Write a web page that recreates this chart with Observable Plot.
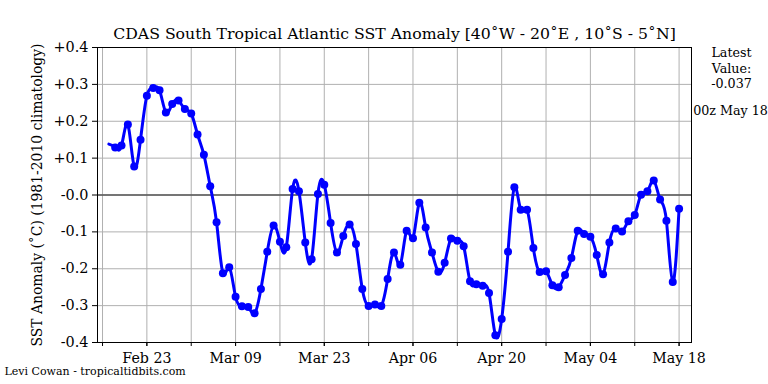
<!DOCTYPE html>
<html><head><meta charset="utf-8">
<script src="https://cdn.jsdelivr.net/npm/d3@7"></script>
<script src="https://cdn.jsdelivr.net/npm/@observablehq/plot@0.6"></script>
<style>html,body{margin:0;padding:0;background:#fff}</style>
</head><body><div id="chart"></div>
<script>
const dates = [
 "2025-02-17","2025-02-18","2025-02-19","2025-02-20","2025-02-21","2025-02-22","2025-02-23","2025-02-24","2025-02-25","2025-02-26","2025-02-27","2025-02-28",
 "2025-03-01","2025-03-02","2025-03-03","2025-03-04","2025-03-05","2025-03-06","2025-03-07","2025-03-08","2025-03-09","2025-03-10",
 "2025-03-11","2025-03-12","2025-03-13","2025-03-14","2025-03-15","2025-03-16","2025-03-17","2025-03-18","2025-03-19","2025-03-20",
 "2025-03-21","2025-03-22","2025-03-23","2025-03-24","2025-03-25","2025-03-26","2025-03-27","2025-03-28","2025-03-29","2025-03-30","2025-03-31",
 "2025-04-01","2025-04-02","2025-04-03","2025-04-04","2025-04-05","2025-04-06","2025-04-07","2025-04-08","2025-04-09","2025-04-10",
 "2025-04-11","2025-04-12","2025-04-13","2025-04-14","2025-04-15","2025-04-16","2025-04-17","2025-04-18","2025-04-19","2025-04-20",
 "2025-04-21","2025-04-22","2025-04-23","2025-04-24","2025-04-25","2025-04-26","2025-04-27","2025-04-28","2025-04-29","2025-04-30",
 "2025-05-01","2025-05-02","2025-05-03","2025-05-04","2025-05-05","2025-05-06","2025-05-07","2025-05-08","2025-05-09","2025-05-10",
 "2025-05-11","2025-05-12","2025-05-13","2025-05-14","2025-05-15","2025-05-16","2025-05-17","2025-05-18"
];
const anomalies = [
 0.138, 0.129, 0.134, 0.191, 0.077, 0.150, 0.269, 0.290, 0.284, 0.224, 0.247, 0.256,
 0.233, 0.221, 0.164, 0.109, 0.024, -0.074, -0.212, -0.196, -0.276, -0.302,
 -0.304, -0.321, -0.255, -0.154, -0.083, -0.127, -0.142, 0.016, 0.010, -0.129,
 -0.174, 0.003, 0.028, -0.076, -0.156, -0.111, -0.080, -0.133, -0.255, -0.301, -0.297,
 -0.301, -0.228, -0.156, -0.189, -0.097, -0.117, -0.021, -0.088, -0.156, -0.208,
 -0.184, -0.118, -0.124, -0.139, -0.234, -0.242, -0.246, -0.266, -0.380, -0.336,
 -0.154, 0.021, -0.040, -0.040, -0.144, -0.209, -0.207, -0.245, -0.250, -0.217,
 -0.171, -0.097, -0.106, -0.113, -0.163, -0.215, -0.129, -0.091, -0.099, -0.071,
 -0.054, 0.001, 0.010, 0.039, -0.012, -0.070, -0.236, -0.037
];
const majorTickDates = ["2025-02-23","2025-03-09","2025-03-23","2025-04-06","2025-04-20","2025-05-04","2025-05-18"];
const majorTickLabels = ["Feb 23","Mar 09","Mar 23","Apr 06","Apr 20","May 04","May 18"];
const minorTickDates = ["2025-02-16","2025-03-02","2025-03-16","2025-03-30","2025-04-13","2025-04-27","2025-05-11"];
const yTicks = [-0.4, -0.3, -0.2, -0.1, 0, 0.1, 0.2, 0.3, 0.4];
const yTickLabels = ["-0.4","-0.3","-0.2","-0.1","-0.0","+0.1","+0.2","+0.3","+0.4"];
const xDomain = ["2025-02-15T05:00Z", "2025-05-19T23:00Z"];
const yDomain = [-0.4, 0.4];
const titleText = "CDAS South Tropical Atlantic SST Anomaly [40\u02DAW - 20\u02DAE , 10\u02DAS - 5\u02DAN]";
const yLabelText = "SST Anomaly (\u02DAC) (1981-2010 climatology)";
const latestText = "Latest\nValue:\n-0.037";
const latestTimeText = "00z May 18";
const creditText = "Levi Cowan - tropicaltidbits.com";

const data = dates.map((d, i) => ({date: new Date(d), value: anomalies[i]}));
const majorDates = majorTickDates.map(d => new Date(d));
const minorDates = minorTickDates.map(d => new Date(d));
const allWeekly = [...minorDates, ...majorDates].sort((a, b) => a - b);
const xLabelMap = new Map(majorDates.map((d, i) => [+d, majorTickLabels[i]]));
const yLabelMap = new Map(yTicks.map((v, i) => [v, yTickLabels[i]]));

const chart = Plot.plot({
  width: 768,
  height: 384,
  marginLeft: 97,
  marginRight: 77,
  marginTop: 47,
  marginBottom: 42,
  style: {fontFamily: "'DejaVu Serif', serif", fontSize: "14px", background: "#fff", color: "#000", overflow: "visible"},
  x: {type: "utc", domain: xDomain.map(d => new Date(d))},
  y: {domain: yDomain},
  marks: [
    Plot.gridX(allWeekly, {stroke: "#b0b0b0", strokeOpacity: 1, strokeWidth: 1}),
    Plot.gridY(yTicks, {stroke: "#b0b0b0", strokeOpacity: 1, strokeWidth: 1}),
    Plot.ruleY([0], {stroke: "#555", strokeWidth: 1.3}),
    Plot.line(data, {x: "date", y: "value", stroke: "#0000ff", strokeWidth: 3, curve: "natural"}),
    Plot.dot(data, {x: "date", y: "value", fill: "#0000ff", r: 4, filter: (d, i) => i > 0}),
    Plot.frame({stroke: "#000", strokeWidth: 1}),
    Plot.axisX(allWeekly, {tickSize: 4, tickFormat: () => "", label: null}),
    Plot.axisX(majorDates, {tickSize: 4, tickPadding: 6, tickFormat: d => xLabelMap.get(+d), label: null, fontSize: 14.2}),
    Plot.axisY(yTicks, {tickSize: 5, tickPadding: 4, tickFormat: d => yLabelMap.get(d), label: null, fontSize: 14.4}),
    Plot.text([titleText], {text: d => d, frameAnchor: "top", dy: -9, lineAnchor: "bottom", fontSize: 15.7}),
    Plot.text([yLabelText], {text: d => d, frameAnchor: "left", dx: -60, rotate: -90, textAnchor: "middle", lineAnchor: "middle", fontSize: 13.9}),
    Plot.text([latestText], {text: d => d, frameAnchor: "top-right", dx: 40, dy: -1, textAnchor: "middle", lineAnchor: "top", lineHeight: 1.2, fontSize: 12.7}),
    Plot.text([latestTimeText], {text: d => d, frameAnchor: "top-right", dx: 39, dy: 67, textAnchor: "middle", lineAnchor: "bottom", fontSize: 12.7}),
    Plot.text([creditText], {text: d => d, frameAnchor: "bottom-left", dx: -93, dy: 32, textAnchor: "start", lineAnchor: "bottom", fontSize: 11})
  ]
});
document.getElementById("chart").appendChild(chart);
</script>
</body></html>
